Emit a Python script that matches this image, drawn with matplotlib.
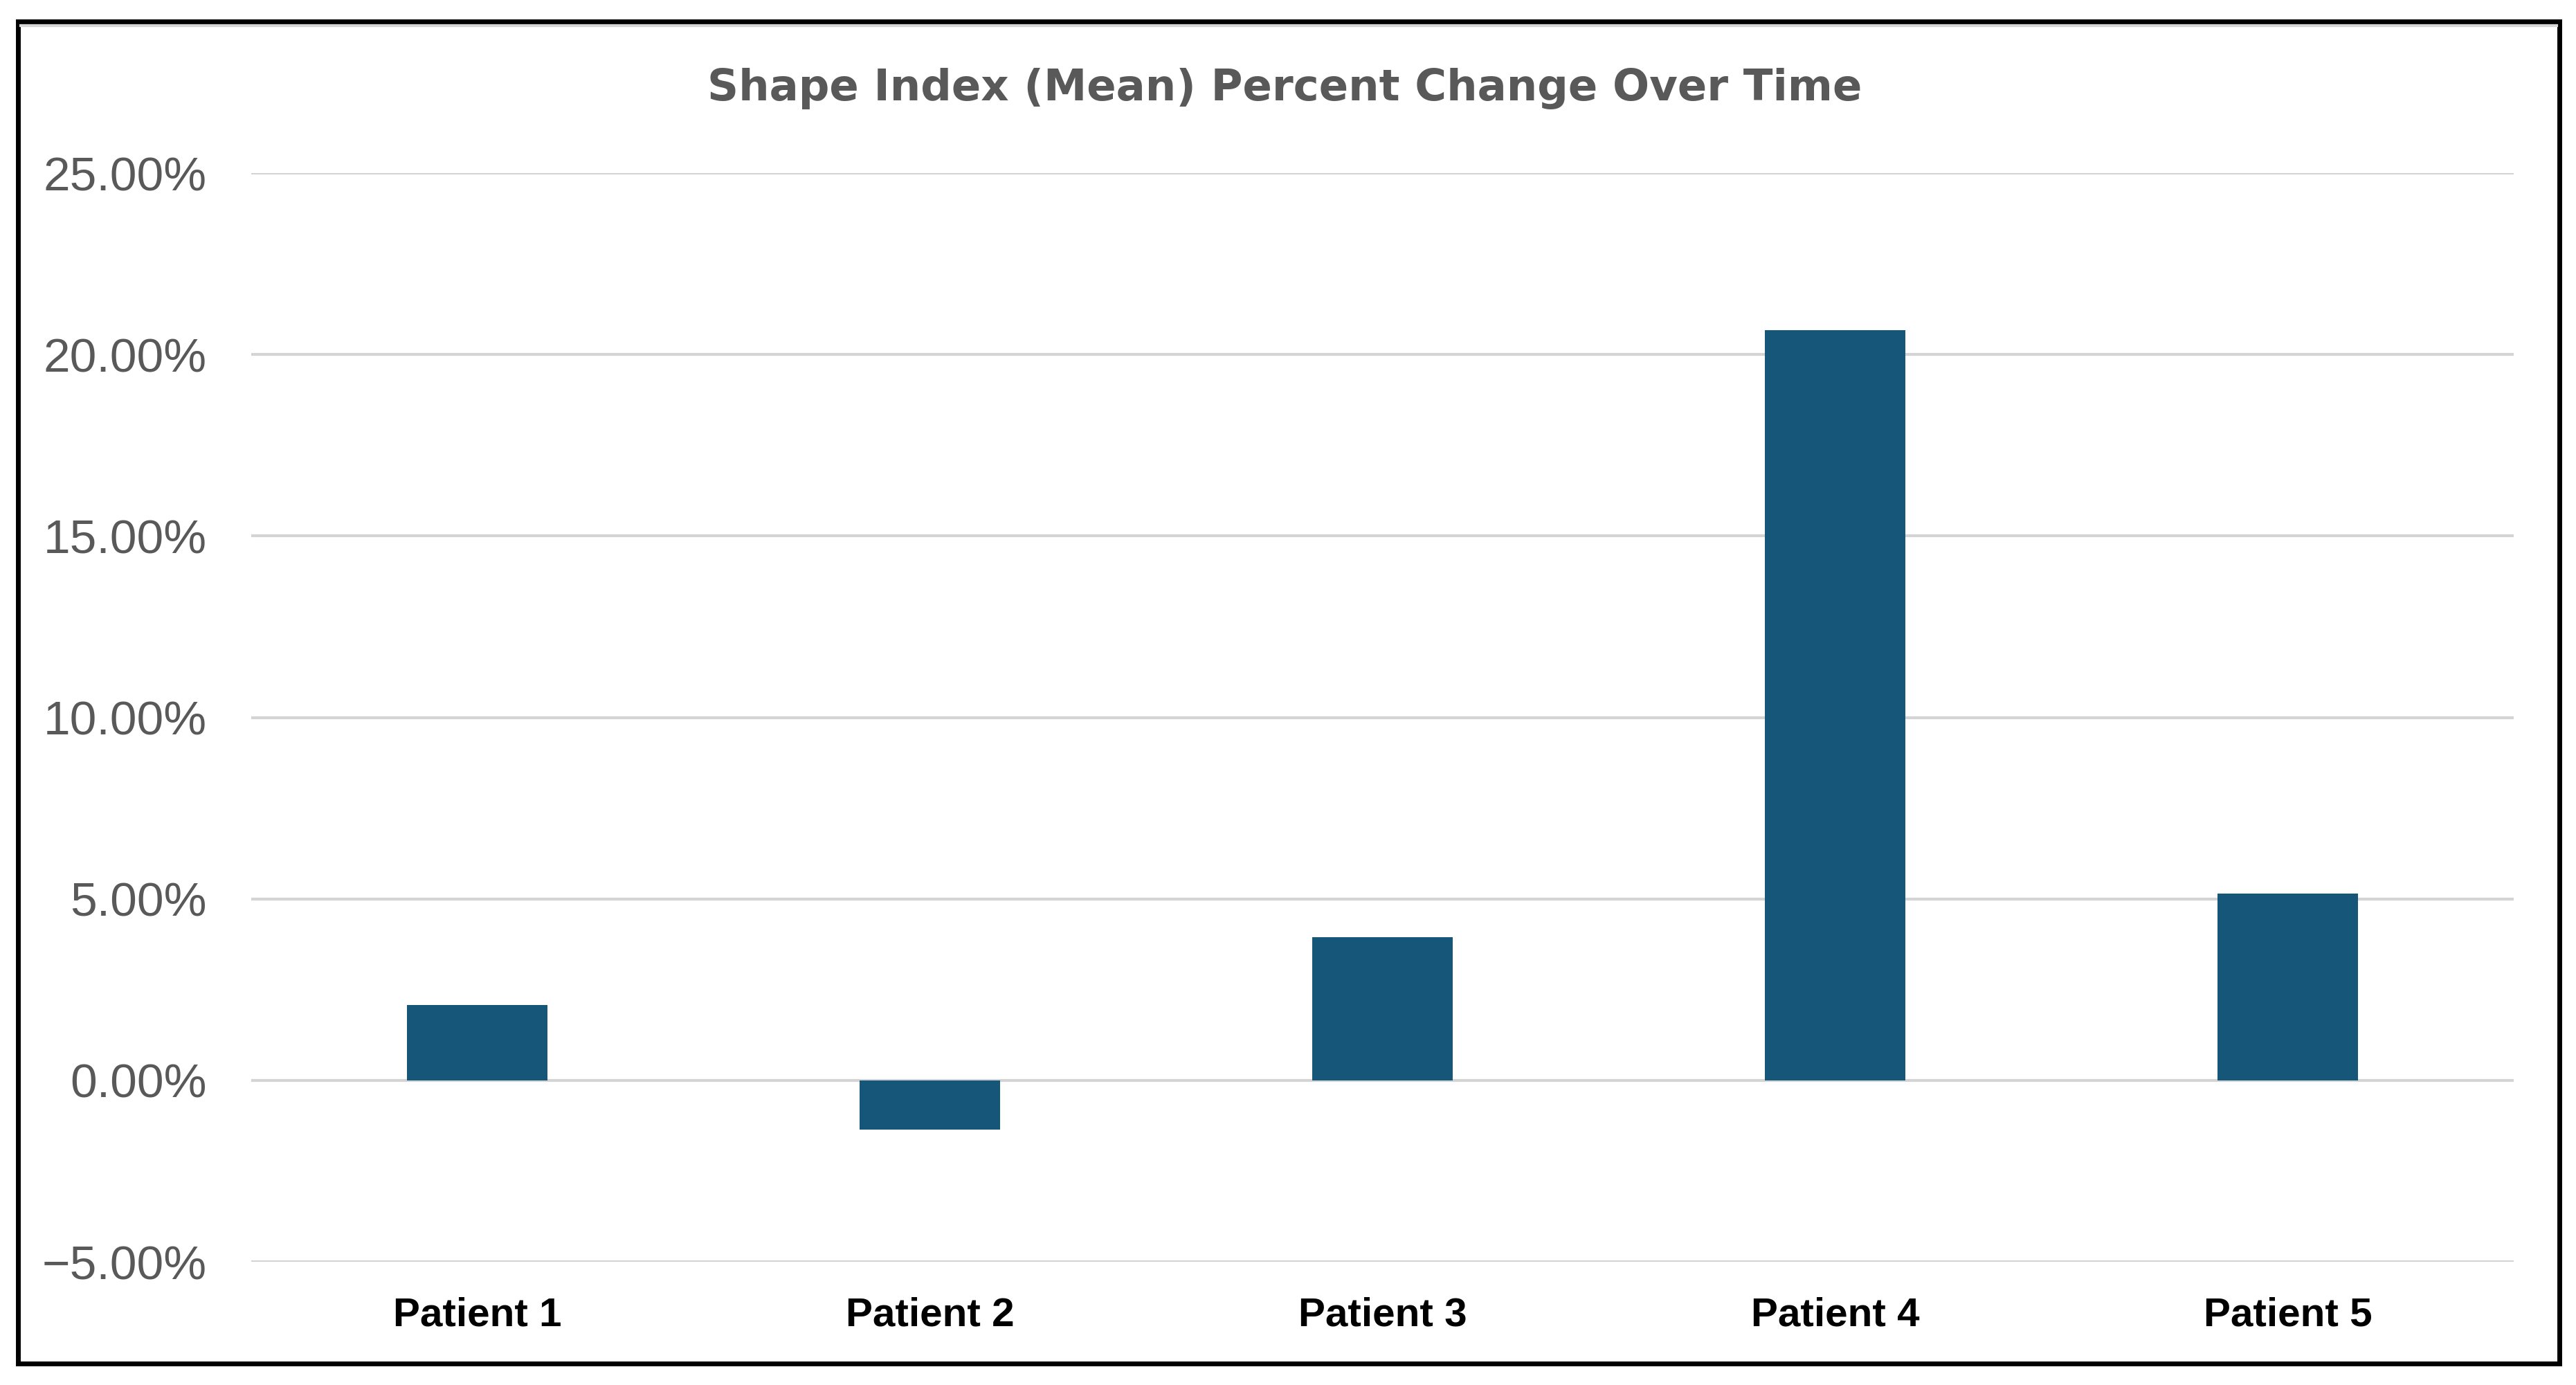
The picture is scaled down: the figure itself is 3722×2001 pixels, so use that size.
import matplotlib
matplotlib.use("Agg")
import matplotlib.pyplot as plt
from matplotlib.patches import Rectangle
from matplotlib.lines import Line2D
from matplotlib.ticker import FuncFormatter

categories = ["Patient 1", "Patient 2", "Patient 3", "Patient 4", "Patient 5"]
values = [2.08, -1.36, 3.95, 20.67, 5.14]  # percent
y_ticks = [-5, 0, 5, 10, 15, 20, 25]
title = "Shape Index (Mean) Percent Change Over Time"

W, H, DPI = 3723, 2001, 100
fig = plt.figure(figsize=(W / DPI, H / DPI), dpi=DPI, facecolor="white")
ax = fig.add_axes([362.5 / W, 1 - 1823 / H, (3632.5 - 362.5) / W, (1823 - 250) / H])

x = list(range(len(categories)))
ax.bar(x, values, width=0.31, color="#165678", zorder=3)

ax.set_xlim(-0.5, len(categories) - 0.5)
ax.set_ylim(-5, 25)
ax.set_yticks(y_ticks)
ax.yaxis.set_major_formatter(FuncFormatter(lambda v, p: f"{v:.2f}%".replace("-", "\u2212")))
ax.grid(axis="y", color="#d4d4d4", linewidth=3.0, zorder=0)
ax.grid(axis="x", visible=False)
for s in ax.spines.values():
    s.set_visible(False)

ax.set_xticks(x)
ax.set_xticklabels(categories, fontfamily="Liberation Sans", fontweight="bold",
                   fontsize=42, color="black")
ax.tick_params(axis="x", length=0, pad=36)
ax.tick_params(axis="y", length=0, pad=46, labelsize=50, labelcolor="#595959")
for lab in ax.get_yticklabels():
    lab.set_fontfamily("Liberation Sans")

fig.text(0.4987, 1 - 128 / H, title, ha="center", va="center",
         fontfamily="DejaVu Sans", fontweight="bold", fontsize=45, color="#595959")

# outer frame
fig.add_artist(Line2D([30 / W, 3694 / W], [1 - 37 / H, 1 - 37 / H], transform=fig.transFigure,
                      color="#d6d6d6", linewidth=3))
fig.add_artist(Rectangle((26 / W, 1 - 1970 / H), (3698 - 26) / W, (1970 - 31) / H,
                         transform=fig.transFigure, fill=False, edgecolor="black",
                         linewidth=5.0))

fig.savefig("out.png", dpi=DPI, facecolor="white")
